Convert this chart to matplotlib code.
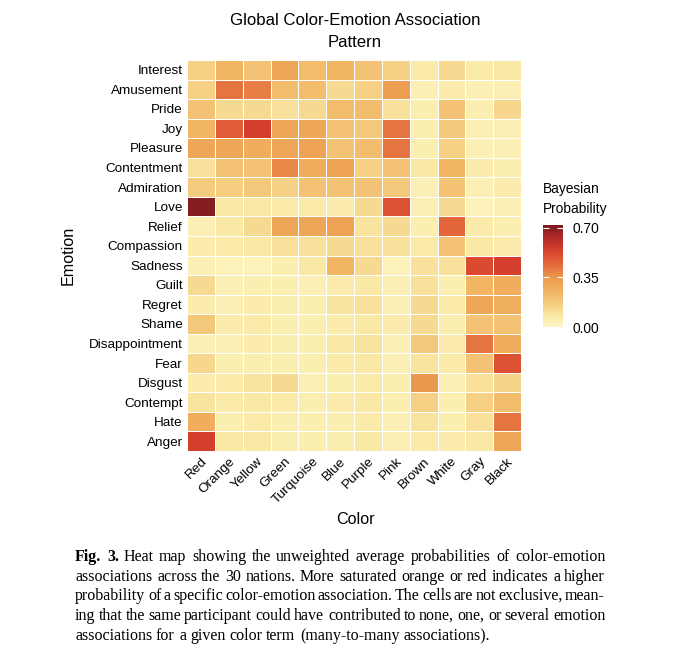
import numpy as np
import matplotlib
matplotlib.use("Agg")
from matplotlib import pyplot as plt
from matplotlib import font_manager
from matplotlib.colors import LinearSegmentedColormap

colors = ["Red", "Orange", "Yellow", "Green", "Turquoise", "Blue",
          "Purple", "Pink", "Brown", "White", "Gray", "Black"]
emotions = ["Interest", "Amusement", "Pride", "Joy", "Pleasure", "Contentment",
            "Admiration", "Love", "Relief", "Compassion", "Sadness", "Guilt",
            "Regret", "Shame", "Disappointment", "Fear", "Disgust", "Contempt",
            "Hate", "Anger"]

# probabilities, one row per emotion, columns follow `colors`
interest       = [0.15, 0.25, 0.20, 0.30, 0.22, 0.25, 0.20, 0.15, 0.07, 0.12, 0.07, 0.08]
amusement      = [0.15, 0.42, 0.40, 0.22, 0.22, 0.12, 0.15, 0.33, 0.04, 0.06, 0.04, 0.04]
pride          = [0.20, 0.12, 0.12, 0.10, 0.12, 0.22, 0.22, 0.10, 0.05, 0.20, 0.05, 0.13]
joy            = [0.25, 0.47, 0.55, 0.30, 0.30, 0.20, 0.18, 0.42, 0.05, 0.18, 0.04, 0.04]
pleasure       = [0.30, 0.30, 0.28, 0.30, 0.32, 0.20, 0.22, 0.42, 0.05, 0.15, 0.04, 0.04]
contentment    = [0.10, 0.20, 0.20, 0.38, 0.28, 0.32, 0.15, 0.20, 0.08, 0.25, 0.06, 0.05]
admiration     = [0.17, 0.16, 0.18, 0.15, 0.20, 0.20, 0.20, 0.18, 0.04, 0.20, 0.04, 0.06]
love           = [0.70, 0.08, 0.08, 0.07, 0.07, 0.06, 0.12, 0.50, 0.04, 0.12, 0.03, 0.04]
relief         = [0.04, 0.08, 0.12, 0.30, 0.30, 0.32, 0.09, 0.12, 0.05, 0.45, 0.07, 0.05]
compassion     = [0.06, 0.07, 0.08, 0.10, 0.10, 0.12, 0.10, 0.10, 0.07, 0.20, 0.08, 0.06]
sadness        = [0.04, 0.03, 0.03, 0.05, 0.08, 0.25, 0.12, 0.03, 0.10, 0.10, 0.52, 0.55]
guilt          = [0.12, 0.04, 0.05, 0.05, 0.04, 0.06, 0.08, 0.04, 0.10, 0.05, 0.25, 0.28]
regret         = [0.06, 0.04, 0.06, 0.05, 0.05, 0.09, 0.10, 0.04, 0.12, 0.07, 0.30, 0.27]
shame          = [0.18, 0.06, 0.07, 0.05, 0.05, 0.06, 0.08, 0.06, 0.12, 0.05, 0.20, 0.20]
disappointment = [0.04, 0.04, 0.06, 0.05, 0.05, 0.08, 0.09, 0.04, 0.18, 0.06, 0.42, 0.28]
fear           = [0.13, 0.05, 0.05, 0.05, 0.05, 0.07, 0.08, 0.04, 0.09, 0.07, 0.20, 0.50]
disgust        = [0.06, 0.07, 0.09, 0.12, 0.04, 0.05, 0.07, 0.05, 0.35, 0.04, 0.10, 0.14]
contempt       = [0.09, 0.07, 0.08, 0.07, 0.05, 0.06, 0.08, 0.05, 0.15, 0.05, 0.15, 0.22]
hate           = [0.28, 0.05, 0.07, 0.05, 0.05, 0.05, 0.07, 0.04, 0.09, 0.05, 0.10, 0.42]
anger          = [0.55, 0.08, 0.08, 0.05, 0.05, 0.05, 0.08, 0.04, 0.07, 0.06, 0.08, 0.30]

cbar_ticks = [0.0, 0.35, 0.70]

caption = [
    "Heat map showing the unweighted average probabilities of color-emotion",
    "associations across the 30 nations. More saturated orange or red indicates a higher",
    "probability of a specific color-emotion association. The cells are not exclusive, mean-",
    "ing that the same participant could have contributed to none, one, or several emotion",
    "associations for a given color term (many-to-many associations).",
]

W, H = 680, 651
SERIF = ["Liberation Serif", "DejaVu Serif"]


def justify(fig, renderer, tokens, x0, x1, ybase, last=False):
    # tokens: list of (word, weight); spread words between x0 and x1 (pixels)
    texts = []
    widths = []
    for word, weight in tokens:
        t = fig.text(0, 0, word, family=SERIF, fontsize=11.5, weight=weight,
                     va="baseline", ha="left")
        texts.append(t)
        widths.append(t.get_window_extent(renderer).width)
    if last or len(tokens) < 2:
        gap = 11.5 * 100 / 72 * 0.25
    else:
        gap = (x1 - x0 - sum(widths)) / (len(tokens) - 1)
    x = x0
    for t, w in zip(texts, widths):
        t.set_position((round(x) / W, 1 - round(ybase) / H))
        x += w + gap


def main():
    data = np.array([interest, amusement, pride, joy, pleasure, contentment,
                     admiration, love, relief, compassion, sadness, guilt,
                     regret, shame, disappointment, fear, disgust, contempt,
                     hate, anger])

    cmap = LinearSegmentedColormap.from_list(
        "bayes", [(0.0, "#fdf6c4"), (0.1, "#faeaa8"), (0.2, "#f6d286"),
                  (0.35, "#f1b463"), (0.48, "#eb9b50"), (0.62, "#e3683a"),
                  (0.75, "#d7402d"), (0.88, "#b02a2a"), (1.0, "#771a20")])

    names = {f.name for f in font_manager.fontManager.ttflist}
    if "Liberation Sans Narrow" in names:
        sans, k = "Liberation Sans Narrow", 1.0
    else:
        sans, k = "Liberation Sans", 0.86

    fig = plt.figure(figsize=(W / 100, H / 100), dpi=100)
    ax = fig.add_axes([187 / W, 1 - 451 / H, 334 / W, 391 / H])
    mesh = ax.pcolormesh(data, cmap=cmap, vmin=0, vmax=0.72,
                         edgecolors="white", linewidth=0.6)
    ax.set_xlim(0, len(colors))
    ax.set_ylim(len(emotions), 0)
    for s in ax.spines.values():
        s.set_visible(False)
    ax.set_xticks(np.arange(len(colors)) + 0.5)
    ax.set_xticklabels(colors, rotation=45, ha="right", rotation_mode="anchor",
                       family=sans, fontsize=11.3 * k)
    ax.set_yticks(np.arange(len(emotions)) + 0.5)
    ax.set_yticklabels(emotions, family=sans, fontsize=11.3 * k)
    ax.tick_params(length=0, pad=3)

    fig.text(355 / W, 1 - 520 / H, "Color", ha="center", va="center",
             family=sans, fontsize=13.5 * k)
    fig.text(68 / W, 1 - 255 / H, "Emotion", ha="center", va="center",
             rotation=90, family=sans, fontsize=13.5 * k)
    fig.text(355 / W, 1 - 25 / H, "Global Color-Emotion Association",
             ha="center", va="baseline", family=sans, fontsize=14 * k)
    fig.text(355 / W, 1 - 47 / H, "Pattern",
             ha="center", va="baseline", family=sans, fontsize=14 * k)

    # colorbar
    cax = fig.add_axes([543 / W, 1 - 327 / H, 20 / W, 102 / H])
    cb = fig.colorbar(mesh, cax=cax, ticks=cbar_ticks)
    cb.outline.set_visible(False)
    cb.ax.set_yticklabels(["%.2f" % t for t in cbar_ticks], family=sans,
                          fontsize=11.5 * k)
    cb.ax.tick_params(color="white", direction="in", length=4, width=0.8,
                      left=True, right=True, pad=7)
    fig.text(543 / W, 1 - 193 / H, "Bayesian", ha="left", va="baseline",
             family=sans, fontsize=11.5 * k)
    fig.text(543 / W, 1 - 213 / H, "Probability", ha="left", va="baseline",
             family=sans, fontsize=11.5 * k)

    # figure caption, justified word by word
    renderer = fig.canvas.get_renderer()
    x0, x1 = 75, 605
    y = 561
    first = [("Fig.", "bold"), ("3.", "bold")] + [(w, "normal") for w in caption[0].split()]
    justify(fig, renderer, first, x0, x1, y)
    for i, line in enumerate(caption[1:]):
        justify(fig, renderer, [(w, "normal") for w in line.split()], x0, x1,
                y + (i + 1) * 19.7, last=(i == len(caption) - 2))

    fig.savefig("out.png", dpi=100)


if __name__ == "__main__":
    main()
